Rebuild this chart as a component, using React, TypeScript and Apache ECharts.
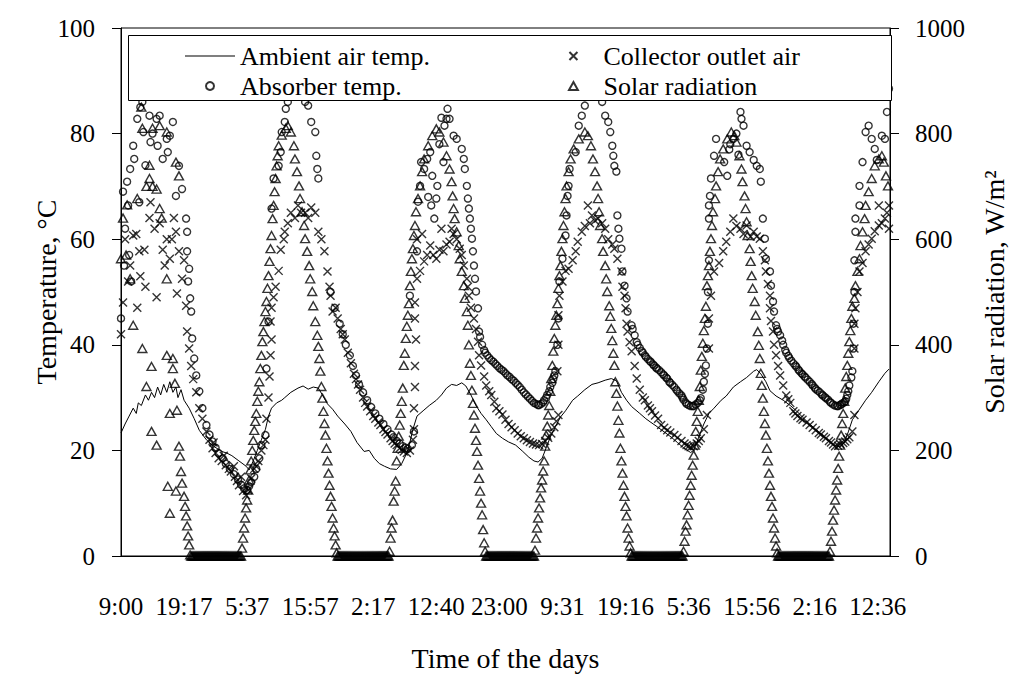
import { useEffect, useRef } from "react";
import * as echarts from "echarts";

const FONT = "Times New Roman, Liberation Serif, DejaVu Serif, serif";

// x = reading number (10-min log); a time label every 62 readings
const timeLabels = ["9:00", "19:17", "5:37", "15:57", "2:17", "12:40", "23:00", "9:31", "19:16", "5:36", "15:56", "2:16", "12:36"];
const readingsPerLabel = 62;
const lastReading = 756;

const ambientTemp = [
  [0, 23.3], [4, 25], [8, 26.5], [12, 28], [15, 27], [17, 29], [20, 28.5], [24, 30.5], [27, 29.5], [30, 31], [33, 30], [36, 32], [39, 30.5], [42, 32.5], [45, 31], [48, 33], [51, 31], [54, 32], [56, 30], [59, 31.5], [62, 29.5], [67, 28], [72, 26], [77, 23.8], [84, 22], [91, 20.8], [99, 19.8], [104, 19.5], [109, 19], [116, 18], [123, 17], [126, 16.3], [130, 18], [134, 20], [138, 22], [142, 24], [145, 26.5], [148, 28], [153, 29], [158, 29.5], [161, 30], [167, 31], [174, 31.8], [179, 32.2], [184, 31.6], [189, 32], [194, 31.8], [198, 30.5], [203, 28.8], [208, 27.8], [213, 26.5], [220, 25], [226, 23.6], [232, 21.5], [239, 19.8], [244, 20], [249, 18.5], [254, 17.5], [259, 17], [265, 16.5], [271, 16.4], [276, 17.5], [281, 19.5], [284, 21.5], [287, 24], [291, 26.5], [297, 27.5], [303, 28.5], [310, 29.5], [315, 30.5], [320, 31.8], [325, 32.5], [330, 32.3], [335, 32.8], [339, 32.2], [344, 30.5], [349, 28.5], [354, 27], [359, 25.8], [364, 24.5], [369, 23.2], [375, 22.3], [381, 21.6], [388, 21], [395, 19.8], [401, 18.7], [406, 18], [410, 17.8], [414, 18.5], [418, 20.5], [422, 22.5], [427, 24.5], [432, 26.3], [437, 27.5], [444, 29.5], [449, 30.3], [456, 31.5], [463, 32.5], [469, 32.8], [476, 33.3], [482, 33.6], [487, 33.2], [492, 31], [497, 29.5], [502, 28.3], [510, 27], [516, 26], [521, 25.3], [527, 24.5], [534, 23.5], [541, 22.5], [547, 21.5], [553, 20.5], [560, 19.6], [563, 20], [566, 21.5], [570, 23.5], [573, 25], [578, 27], [583, 28], [590, 29.5], [595, 30.3], [602, 32], [609, 33], [615, 33.8], [622, 35], [625, 35.3], [629, 34.5], [634, 33], [638, 31.3], [644, 30.3], [651, 29.5], [658, 28.5], [664, 27.5], [670, 26.3], [677, 25], [683, 24], [690, 22.8], [697, 21.5], [702, 21], [707, 20.6], [711, 21.5], [715, 23.5], [719, 25.8], [725, 27.5], [732, 29.5], [738, 31], [745, 33], [751, 34.6], [755, 35.4],
];

const collectorTemp = [
  [0, 42], [2, 48], [4, 60], [7, 52], [9, 55], [12, 60.7], [15, 61], [16, 47], [18, 57.7], [19, 53], [23, 58], [24, 51], [28, 64], [29, 67], [33, 62], [35, 49], [38, 63], [41, 58], [43, 55], [45, 60], [48, 56.3], [50, 60], [52, 64], [54, 61.4], [55, 49.7], [57, 57.7], [60, 52.5], [62, 56], [64, 47.4],
  [65, 42.5], [67, 39.3], [69, 36], [71, 33.5], [74, 31], [77, 28], [80, 26], [84, 23.6], [87, 22], [90, 20.4], [91, 21.5], [93, 19.5], [96, 18.5], [99, 18], [101, 19], [103, 17.2], [106, 16.5], [108, 16], [111, 17], [112, 15], [114, 14.2], [116, 13.4], [118, 15], [120, 12.3], [123, 11.5], [125, 12.5], [128, 14.7], [131, 16.5], [133, 17], [135, 18], [138, 20], [140, 21], [142, 22], [143, 26], [145, 30], [146, 34], [147, 38], [148, 41], [147, 44.4],
  [148, 47], [150, 49], [152, 51], [155, 54], [157, 58], [160, 60], [161, 61.4], [164, 63], [167, 65], [171, 64], [174, 66.4], [177, 65], [181, 65], [184, 64], [187, 66], [191, 65], [194, 61.4], [197, 60], [200, 57.7], [203, 53.9], [205, 51], [206, 49.3], [208, 46.3],
  [211, 47], [213, 45], [216, 43], [218, 42], [220, 41], [223, 38.5], [226, 36.5], [229, 34.5], [231, 33.5], [233, 32.5], [235, 31.5], [238, 30], [240, 29], [242, 28.3], [245, 27.4], [248, 26.5], [250, 26], [253, 25.3], [255, 24.8], [258, 24], [260, 23.5], [262, 23], [265, 22.3], [267, 21.8], [269, 21.3], [271, 21], [274, 20.4], [276, 20.1], [278, 19.8], [281, 19.5], [284, 20], [287, 22], [288, 24], [288, 28], [289, 32], [289, 36], [290, 41], [289, 45],
  [289, 48], [291, 52.5], [291, 60], [294, 54], [296, 61], [298, 55.8], [301, 57], [304, 58.8], [307, 57], [310, 56.3], [313, 58], [315, 62], [317, 57.7], [320, 59], [323, 59.5], [325, 62], [327, 61], [330, 60], [333, 58.2], [335, 57], [337, 55], [340, 52.5], [341, 51], [342, 49.3], [344, 47], [347, 45], [349, 43], [351, 40.6], [352, 38], [354, 36.1], [357, 34],
  [359, 32.3], [362, 31.2], [364, 30.5], [367, 29.2], [369, 28], [372, 27.4], [375, 26.8], [378, 25.8], [381, 25], [384, 24.4], [387, 23.8], [390, 23.2], [393, 22.7], [396, 22.3], [399, 21.9], [402, 21.6], [405, 21.3], [408, 21.1], [411, 21], [414, 21.2], [417, 21.8], [420, 22.4], [423, 23.2], [426, 24.4], [428, 25.5], [430, 26.7],
  [429, 35], [430, 40], [430, 45.6], [431, 49.3], [434, 52], [437, 54], [440, 54.4], [444, 56], [447, 57.7], [449, 59.5], [453, 61.4], [456, 62.5], [459, 66.4], [461, 63], [463, 64.5], [466, 63.5], [469, 63.9], [473, 63], [476, 62], [479, 60], [483, 59], [485, 58.2], [488, 56.3], [492, 53.9], [493, 51], [495, 49.3], [496, 46.9], [497, 44], [498, 42.5], [500, 40.5], [502, 38.8],
  [505, 36], [507, 33.6], [510, 31.5], [513, 30], [515, 29.5], [518, 28.5], [520, 28], [522, 27.4], [525, 26.6], [528, 26], [531, 24.8], [534, 24.3], [537, 23.8], [540, 23.4], [544, 22.9], [547, 22.4], [551, 21.8], [554, 21.3], [556, 21], [558, 20.8], [560, 20.6], [563, 20.8], [566, 21.3], [568, 21.8], [570, 22.3], [573, 24], [576, 26.7],
  [578, 39.3], [578, 45], [580, 49.3], [583, 53.9], [588, 55.5], [592, 57.7], [595, 59.5], [599, 61.4], [602, 63.9], [605, 62.5], [609, 62], [612, 61], [615, 62.6], [619, 60.5], [622, 61.4], [625, 60.5], [628, 60.1], [631, 57.7], [633, 56], [634, 53.9], [636, 51.5], [638, 49.3], [638, 46.9], [639, 44.5], [641, 42.5], [642, 40], [644, 38], [646, 36],
  [648, 34.2], [651, 32.3], [654, 30.4], [656, 29.7], [658, 29], [661, 27.4], [663, 27], [665, 26.5], [668, 26.1], [670, 25.8], [674, 25.3], [677, 24.8], [680, 24.3], [683, 23.8], [686, 23.3], [688, 23], [691, 22.6], [693, 22.3], [696, 21.8], [698, 21.5], [700, 21.1], [702, 20.8], [705, 20.9], [707, 21.2], [710, 21.4], [712, 21.7], [714, 22.1], [716, 22.5], [719, 23.6], [721, 26.7],
  [721, 39.3], [721, 44], [722, 46.9], [724, 50], [726, 53.9], [729, 55.5], [732, 57.7], [735, 59], [738, 60.1], [741, 61.5], [745, 62.6], [745, 66.4], [748, 63], [751, 63.9], [753, 65], [755, 66.4], [755, 62],
];

const absorberTemp = [
  [0, 45], [2, 69], [3, 55], [4, 62], [6, 70.9], [7, 66.4], [8, 57], [9, 73.3], [10, 52], [12, 77.7], [13, 75.2], [16, 82.8], [18, 67], [19, 85], [21, 86], [22, 80.3], [24, 74], [28, 83.4], [29, 78.4], [31, 80], [33, 87], [35, 82.8], [36, 77.7], [38, 83.4], [41, 75.2], [45, 79], [46, 76.5], [48, 79.6], [51, 82.2], [54, 68.2], [57, 73.9], [60, 69.5], [64, 63.9], [65, 61.4], [65, 57.7], [66, 52], [67, 54.4], [68, 48.8], [69, 46.3],
  [70, 41.2], [72, 37.4], [74, 34.2], [77, 31.2], [80, 28], [84, 24.8], [87, 23], [90, 21.7], [93, 20.5], [96, 19.5], [100, 18.5], [103, 17.5], [107, 16.5], [111, 15.5], [115, 14.5], [118, 13.5], [121, 12.8], [124, 12.5], [126, 13.2], [128, 14], [131, 15], [133, 16.5], [136, 18.5], [138, 21], [142, 22.9], [143, 35.5], [145, 44.4],
  [148, 65.8], [150, 71.5], [155, 73.9], [157, 76.5], [158, 80.3], [161, 82.2], [162, 84.7], [164, 86], [167, 88], [174, 89], [179, 88], [181, 86], [184, 85.3], [187, 82.2], [191, 80.3], [192, 75.8], [193, 73.3], [194, 71.5],
  [206, 50], [210, 47], [215, 44], [218, 42], [221, 40], [225, 38], [228, 36], [231, 34.2], [234, 32.5], [238, 31], [242, 29.5], [246, 28.2], [250, 27], [254, 26], [258, 25], [262, 24], [266, 23], [268, 22.5], [271, 21.8], [274, 21.3], [277, 20.8], [280, 20.5], [282, 20.3], [286, 21], [288, 23.6],
  [284, 49.3], [291, 57.7], [292, 67.1], [294, 70.1], [295, 74.6], [298, 73.3], [301, 75.2], [302, 68], [304, 76.5], [305, 66.4], [306, 72], [308, 63.9], [310, 67.7], [311, 70.1], [313, 78], [315, 83], [317, 74.6], [318, 81.5], [320, 82.8], [321, 84.7], [323, 82.8], [327, 79.6], [330, 79], [335, 77.1], [337, 75.2], [338, 73.3], [340, 70.1], [341, 67.7], [342, 65.8], [343, 63.9], [344, 62], [345, 60.1], [346, 57.7], [347, 55], [348, 52.5], [349, 50.1], [351, 46.9],
  [352, 42.5], [353, 41.5], [355, 40], [357, 39], [358, 38.5], [360, 38], [362, 37.5], [364, 37.1], [366, 36.8], [368, 36.4], [370, 36], [372, 35.6], [374, 35.3], [376, 35], [378, 34.6], [380, 34.2], [382, 33.9], [384, 33.5], [386, 33.2], [388, 32.8], [390, 32.4], [392, 32], [394, 31.5], [396, 31], [398, 30.6], [400, 30.2], [402, 29.8], [404, 29.4], [406, 29], [408, 28.8], [410, 28.6], [411, 28.6], [413, 28.8], [415, 29.1], [416, 29.5], [418, 30], [419, 30.5], [421, 31.2], [422, 32], [424, 32.8], [425, 33.5], [426, 34.2], [427, 35],
  [429, 40], [430, 45], [431, 52], [434, 56.3], [437, 60.7], [438, 64.5], [439, 68.2], [440, 70.1], [441, 73.3], [447, 76.5], [450, 81.5], [453, 83.4], [456, 85.3], [463, 87.5], [469, 88], [473, 86], [476, 83.4], [479, 82.2], [481, 80.3], [483, 77.7], [484, 75.8], [485, 73.9], [487, 72.8], [488, 64.5], [489, 62], [490, 60.1], [492, 58.2], [493, 53.9], [495, 51.2], [497, 48.8], [498, 46.3],
  [502, 43.7], [503, 43], [505, 41.8], [507, 40.5], [508, 40], [510, 39.4], [512, 38.8], [513, 38.5], [515, 38], [516, 37.7], [518, 37.3], [520, 36.9], [521, 36.7], [523, 36.3], [524, 36.1], [526, 35.7], [527, 35.5], [529, 35.2], [531, 34.8], [533, 34.4], [534, 34.2], [536, 33.8], [537, 33.6], [539, 33], [540, 32.8], [542, 32.4], [544, 32], [546, 31.5], [547, 31.2], [549, 30.8], [551, 30.4], [552, 30], [553, 29.6], [555, 29.1], [556, 28.8], [558, 28.6], [560, 28.4], [562, 28.4], [563, 28.4], [565, 28.7], [567, 29], [569, 29.5], [570, 29.9], [572, 31.5], [573, 33], [574, 34.5], [575, 36.1], [576, 39.3],
  [577, 44], [577, 50], [578, 56], [578, 63.9], [578, 66.4], [579, 68.2], [580, 71.5], [583, 75.8], [585, 79], [593, 74.6], [596, 72], [598, 77], [599, 78], [602, 79], [605, 80], [607, 76], [609, 84.1], [610, 82.8], [612, 81.5], [615, 77.7], [618, 76.5], [622, 75], [625, 73.9], [628, 73.3], [629, 70.9], [631, 63.9], [633, 60.1], [634, 56.3], [638, 53.9], [639, 51.2], [641, 48.2], [642, 46.3],
  [644, 43.7], [645, 43], [646, 42.5], [648, 41.8], [650, 40.8], [651, 40], [653, 39], [654, 38.5], [656, 37.9], [657, 37.5], [659, 37], [661, 36.5], [663, 36.1], [664, 35.8], [666, 35.3], [667, 35], [669, 34.6], [670, 34.4], [672, 34], [673, 33.8], [675, 33.4], [677, 33], [679, 32.6], [680, 32.3], [682, 31.9], [683, 31.6], [685, 31.3], [687, 31], [689, 30.6], [690, 30.4], [692, 30.1], [693, 29.9], [695, 29.6], [697, 29.2], [698, 29], [700, 28.7], [702, 28.5], [704, 28.4], [705, 28.4], [707, 28.6], [708, 28.7], [709, 28.9], [711, 29.1], [712, 29.3], [713, 29.8], [714, 30.5], [715, 31.2], [716, 32.3], [718, 33.8], [719, 35], [720, 39.3],
  [720, 44], [721, 50], [721, 56], [722, 61.4], [722, 63.9], [726, 66.4], [726, 70.1], [729, 74.6], [732, 80.3], [735, 81.5], [738, 79], [741, 77.1], [743, 75], [748, 79.6], [751, 79], [753, 84.1], [755, 88.5],
];

const solarRadiation = [
  [0, 563], [2, 640], [5, 570], [6, 665], [9, 525], [12, 437], [16, 677], [20, 850], [21, 810], [21, 393], [25, 700], [25, 321], [28, 715], [28, 740], [30, 359], [30, 236], [31, 810], [31, 700], [35, 695], [35, 210], [38, 815], [38, 658], [40, 640], [45, 525], [45, 803], [45, 380], [46, 132], [48, 270], [48, 81], [51, 374], [51, 355], [53, 327], [54, 746], [54, 123], [55, 276], [57, 720], [57, 208], [58, 189], [59, 160], [60, 138], [62, 113], [63, 94], [64, 76], [65, 57], [66, 38], [67, 21], [68, 2],
  [69, 0], [70, 0], [71, 0], [72, 0], [73, 0], [74, 0], [75, 0], [76, 0], [77, 0], [78, 0], [79, 0], [80, 0], [81, 0], [82, 0], [83, 0], [84, 0], [85, 0], [86, 0], [87, 0], [88, 0], [89, 0], [90, 0], [91, 0], [92, 0], [93, 0], [94, 0], [95, 0], [96, 0], [97, 0], [98, 0], [99, 0], [100, 0], [101, 0], [102, 0], [103, 0], [104, 0], [105, 0], [106, 0], [107, 0], [108, 0], [109, 0], [110, 0], [111, 0], [112, 0], [113, 0], [114, 0], [115, 0], [116, 0], [117, 0], [118, 0],
  [119, 15], [120, 34], [121, 53], [122, 72], [123, 91], [124, 106], [125, 125], [126, 144], [127, 163], [128, 180], [129, 200], [130, 219], [131, 238], [132, 255], [133, 270], [134, 293], [135, 312], [136, 330], [137, 355], [138, 380], [139, 406], [140, 425], [141, 444], [142, 463], [143, 482], [144, 507], [145, 531], [146, 558], [147, 582], [148, 607], [149, 639], [150, 664], [151, 690], [152, 715], [153, 739], [154, 758], [155, 777], [158, 797], [162, 810], [164, 815],
  [167, 803], [170, 777], [171, 752], [173, 728], [175, 701], [176, 677], [178, 652], [180, 626], [181, 601], [183, 577], [185, 550], [186, 525], [188, 501], [189, 474], [191, 444], [193, 418], [194, 397], [195, 374], [196, 350], [197, 321], [198, 299], [199, 274], [200, 251], [201, 229], [202, 204], [203, 180], [204, 157], [205, 134], [206, 113], [207, 94], [208, 72], [209, 53], [210, 38], [211, 21], [212, 6],
  [213, 0], [214, 0], [215, 0], [216, 0], [217, 0], [218, 0], [219, 0], [220, 0], [221, 0], [222, 0], [223, 0], [224, 0], [225, 0], [226, 0], [227, 0], [228, 0], [229, 0], [230, 0], [231, 0], [232, 0], [233, 0], [234, 0], [235, 0], [236, 0], [237, 0], [238, 0], [239, 0], [240, 0], [241, 0], [242, 0], [243, 0], [244, 0], [245, 0], [246, 0], [247, 0], [248, 0], [249, 0], [250, 0], [251, 0], [252, 0], [253, 0], [254, 0], [255, 0], [256, 0], [257, 0], [258, 0], [259, 0], [260, 0], [261, 0], [262, 0], [263, 0],
  [264, 9], [265, 34], [266, 53], [267, 68], [268, 104], [269, 123], [270, 142], [271, 180], [272, 204], [273, 227], [274, 248], [275, 270], [276, 293], [277, 318], [278, 361], [279, 384], [280, 412], [281, 435], [282, 456], [283, 478], [284, 512], [285, 539], [286, 563], [287, 582], [288, 607], [289, 626], [290, 652], [292, 677], [294, 701], [296, 728], [298, 752], [302, 777], [306, 796], [310, 809], [313, 803], [317, 784], [320, 758], [323, 733], [325, 709], [326, 682], [327, 658], [328, 639], [330, 614], [332, 588], [333, 563], [335, 539], [337, 512], [338, 488], [340, 463], [341, 437], [342, 400], [343, 365], [344, 342], [345, 314], [346, 289], [347, 267], [348, 242], [349, 219], [350, 198], [351, 172], [352, 147], [353, 123], [354, 100], [355, 78], [356, 50], [357, 25], [358, 9],
  [359, 0], [360, 0], [361, 0], [362, 0], [363, 0], [364, 0], [365, 0], [366, 0], [367, 0], [368, 0], [369, 0], [370, 0], [371, 0], [372, 0], [373, 0], [374, 0], [375, 0], [376, 0], [377, 0], [378, 0], [379, 0], [380, 0], [381, 0], [382, 0], [383, 0], [384, 0], [385, 0], [386, 0], [387, 0], [388, 0], [389, 0], [390, 0], [391, 0], [392, 0], [393, 0], [394, 0], [395, 0], [396, 0], [397, 0], [398, 0], [399, 0], [400, 0], [401, 0], [402, 0], [403, 0], [404, 0], [405, 0], [406, 0],
  [407, 11], [408, 34], [409, 53], [410, 72], [411, 91], [412, 110], [413, 129], [414, 144], [415, 161], [416, 180], [417, 208], [418, 229], [419, 246], [420, 267], [421, 285], [422, 312], [423, 336], [424, 361], [425, 388], [426, 412], [427, 437], [428, 456], [429, 478], [430, 507], [431, 531], [432, 550], [433, 577], [434, 601], [435, 626], [436, 652], [437, 677], [438, 701], [440, 728], [442, 752], [445, 771], [450, 790], [456, 803], [459, 796], [462, 777], [464, 752], [466, 728], [468, 701], [469, 677], [470, 652], [471, 626], [473, 601], [474, 577], [476, 550], [477, 525], [478, 501], [480, 474], [481, 454], [482, 431], [483, 408], [484, 384], [485, 361], [486, 330], [487, 308], [488, 284], [489, 257], [490, 233], [491, 204], [492, 180], [493, 157], [494, 134], [495, 113], [496, 94], [497, 76], [498, 53], [499, 34], [500, 19], [501, 6],
  [502, 0], [503, 0], [504, 0], [505, 0], [506, 0], [507, 0], [508, 0], [509, 0], [510, 0], [511, 0], [512, 0], [513, 0], [514, 0], [515, 0], [516, 0], [517, 0], [518, 0], [519, 0], [520, 0], [521, 0], [522, 0], [523, 0], [524, 0], [525, 0], [526, 0], [527, 0], [528, 0], [529, 0], [530, 0], [531, 0], [532, 0], [533, 0], [534, 0], [535, 0], [536, 0], [537, 0], [538, 0], [539, 0], [540, 0], [541, 0], [542, 0], [543, 0], [544, 0], [545, 0], [546, 0], [547, 0], [548, 0], [549, 0], [550, 0], [551, 0], [552, 0],
  [553, 9], [554, 28], [555, 47], [556, 59], [557, 78], [558, 96], [559, 115], [560, 134], [561, 153], [562, 172], [563, 191], [564, 210], [565, 236], [566, 255], [567, 274], [568, 295], [569, 321], [570, 352], [571, 378], [572, 403], [573, 427], [574, 450], [575, 473], [576, 512], [577, 531], [578, 550], [579, 577], [580, 601], [581, 626], [582, 652], [584, 677], [585, 701], [587, 728], [589, 752], [592, 771], [596, 790], [600, 803], [603, 796], [605, 784], [608, 758], [610, 733], [611, 709], [613, 682], [614, 658], [615, 633], [616, 607], [618, 582], [619, 558], [620, 531], [621, 507], [623, 482], [624, 456], [626, 425], [627, 399], [628, 374], [629, 346], [630, 323], [631, 299], [632, 274], [633, 251], [634, 229], [635, 204], [636, 180], [637, 157], [638, 134], [639, 113], [640, 94], [641, 72], [642, 53], [643, 34], [644, 19], [645, 6],
  [646, 0], [647, 0], [648, 0], [649, 0], [650, 0], [651, 0], [652, 0], [653, 0], [654, 0], [655, 0], [656, 0], [657, 0], [658, 0], [659, 0], [660, 0], [661, 0], [662, 0], [663, 0], [664, 0], [665, 0], [666, 0], [667, 0], [668, 0], [669, 0], [670, 0], [671, 0], [672, 0], [673, 0], [674, 0], [675, 0], [676, 0], [677, 0], [678, 0], [679, 0], [680, 0], [681, 0], [682, 0], [683, 0], [684, 0], [685, 0], [686, 0], [687, 0], [688, 0], [689, 0], [690, 0], [691, 0], [692, 0], [693, 0], [694, 0], [695, 0], [696, 0],
  [697, 9], [698, 28], [699, 47], [700, 68], [701, 87], [702, 106], [703, 125], [704, 144], [705, 166], [706, 189], [707, 210], [708, 229], [709, 251], [710, 270], [711, 293], [712, 318], [713, 340], [714, 361], [715, 384], [716, 406], [717, 427], [718, 450], [719, 473], [721, 488], [722, 512], [724, 539], [726, 563], [727, 588], [729, 614], [731, 639], [732, 664], [735, 690], [738, 715], [741, 739], [745, 752], [748, 758], [750, 746], [752, 720], [754, 701],
];

const hollow = { color: "rgba(0,0,0,0)", borderColor: "#000", borderWidth: 1.4 };
const crossSymbol = "path://M0,0L10,10M10,0L0,10";
const triangleSymbol = "path://M5,0L10,9L0,9Z";
const lineIcon = "path://M0,0H50V1H0Z";

export default function App() {
  const ref = useRef<HTMLDivElement>(null);
  useEffect(() => {
    if (!ref.current) return;
    const chart = echarts.init(ref.current, null, { renderer: "svg" });
    const legendText = { fontSize: 26, fontFamily: FONT, color: "#000000" };
    const axisText = { fontSize: 28, fontFamily: FONT, color: "#000000" };
    const tickText = { fontSize: 25, fontFamily: FONT, color: "#000000" };
    const legendBase = {
      orient: "vertical",
      top: 43,
      padding: 0,
      itemGap: 4,
      itemWidth: 50,
      itemHeight: 8,
      selectedMode: false,
      z: 5,
      textStyle: legendText,
    };
    chart.setOption({
      animation: false,
      backgroundColor: "#fff",
      textStyle: { fontFamily: FONT, color: "#000" },
      grid: { left: 121, right: 118, top: 28, bottom: 119, show: true, borderColor: "#000", borderWidth: 1 },
      xAxis: {
        type: "value",
        min: 0,
        max: lastReading,
        interval: readingsPerLabel,
        name: "Time of the days",
        nameLocation: "middle",
        nameMoveOverlap: false,
        nameGap: 88,
        nameTextStyle: axisText,
        axisLine: { show: true, lineStyle: { color: "#000", width: 1 } },
        axisTick: { show: false },
        splitLine: { show: false },
        axisLabel: {
          ...tickText,
          margin: 38,
          showMaxLabel: false,
          formatter: (v: number) => (v % readingsPerLabel === 0 ? timeLabels[v / readingsPerLabel] ?? "" : ""),
        },
      },
      yAxis: [
        {
          type: "value",
          position: "left",
          min: 0,
          max: 100,
          interval: 20,
          name: "Temperature, °C",
          nameLocation: "middle",
          nameMoveOverlap: false,
          nameRotate: 90,
          nameGap: 61,
          nameTextStyle: axisText,
          axisLine: { show: true, lineStyle: { color: "#000", width: 1 } },
          axisTick: { show: true, inside: false, length: 9, lineStyle: { color: "#000", width: 1 } },
          splitLine: { show: false },
          axisLabel: { ...tickText, margin: 26, formatter: (v: number) => String(v) },
        },
        {
          type: "value",
          position: "right",
          min: 0,
          max: 1000,
          interval: 200,
          name: "Solar radiation, W/m²",
          nameLocation: "middle",
          nameMoveOverlap: false,
          nameRotate: 90,
          nameGap: 90,
          nameTextStyle: axisText,
          axisLine: { show: true, lineStyle: { color: "#000", width: 1 } },
          axisTick: { show: true, inside: false, length: 9, lineStyle: { color: "#000", width: 1 } },
          splitLine: { show: false },
          axisLabel: { ...tickText, margin: 25, formatter: (v: number) => String(v) },
        },
      ],
      legend: [
        {
          ...legendBase,
          left: 185,
          data: [{ name: "Ambient air temp.", icon: lineIcon, itemStyle: { color: "#000" } }, "Absorber temp."],
        },
        {
          ...legendBase,
          left: 568,
          data: ["Collector outlet air", "Solar radiation"],
        },
      ],
      graphic: [
        {
          type: "rect",
          z: 3,
          shape: { x: 128.5, y: 35.5, width: 763, height: 65 },
          style: { fill: "#fff", stroke: "#000", lineWidth: 1 },
        },
      ],
      series: [
        {
          name: "Ambient air temp.",
          type: "line",
          data: ambientTemp,
          yAxisIndex: 0,
          symbol: "none",
          lineStyle: { color: "#000", width: 1 },
          itemStyle: { color: "#000" },
          z: 2,
        },
        {
          name: "Absorber temp.",
          type: "scatter",
          data: absorberTemp,
          yAxisIndex: 0,
          symbol: "circle",
          symbolSize: 7,
          itemStyle: hollow,
          z: 2,
        },
        {
          name: "Collector outlet air",
          type: "scatter",
          data: collectorTemp,
          yAxisIndex: 0,
          symbol: crossSymbol,
          symbolSize: 8,
          itemStyle: hollow,
          z: 2,
        },
        {
          name: "Solar radiation",
          type: "scatter",
          data: solarRadiation,
          yAxisIndex: 1,
          symbol: triangleSymbol,
          symbolSize: [9, 8],
          itemStyle: hollow,
          z: 2,
        },
      ],
    });
    return () => chart.dispose();
  }, []);
  return <div ref={ref} style={{ position: "absolute", left: 0, top: 0, width: 1016, height: 677 }} />;
}
